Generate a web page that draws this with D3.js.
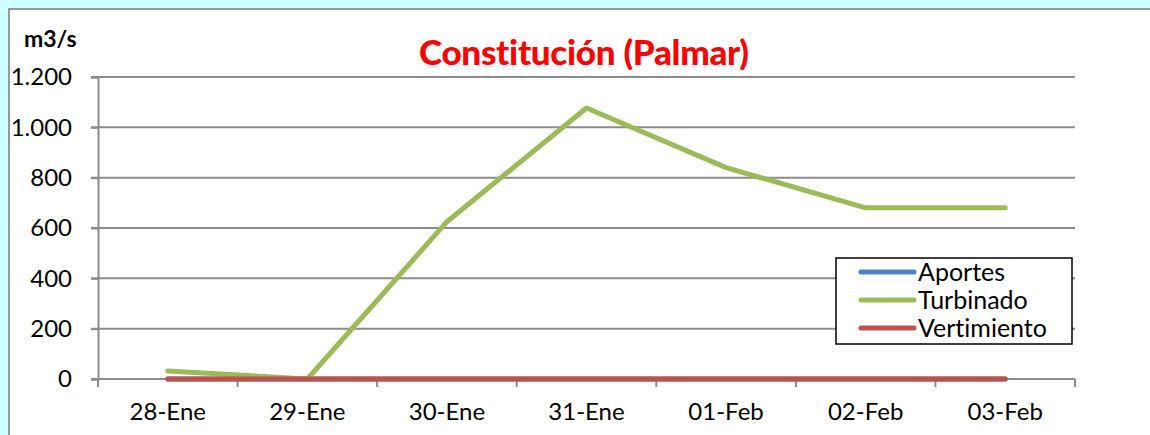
<!DOCTYPE html>
<html>
<head>
<meta charset="utf-8">
<script src="https://cdn.jsdelivr.net/npm/d3@7"></script>
<style>
  body { margin: 0; background: #ccffff; }
  text { font-family: Lato, "Open Sans", sans-serif; font-variant-ligatures: none; }
</style>
</head>
<body>
<div id="wrapper"></div>
<script>
const dates = ["28-Ene", "29-Ene", "30-Ene", "31-Ene", "01-Feb", "02-Feb", "03-Feb"]
const aportes = [0, 0, 0, 0, 0, 0, 0]
const turbinado = [32, 0, 625, 1077, 840, 680, 680]
const vertimiento = [0, 0, 0, 0, 0, 0, 0]
const yTicks = [0, 200, 400, 600, 800, 1000, 1200]
const seriesNames = ["Aportes", "Turbinado", "Vertimiento"]
const seriesColors = ["#4f81bd", "#9bbb59", "#c0504d"]

const width = 1150, height = 435
const svg = d3.select("#wrapper").append("svg")
    .attr("width", width)
    .attr("height", height)
    .style("display", "block")

// white panel
svg.append("rect")
    .attr("x", 9).attr("y", 9)
    .attr("width", width + 10).attr("height", height + 10)
    .attr("fill", "white")
    .attr("stroke", "#999")
    .attr("stroke-width", 2)

const margin = {left: 98, right: 75, top: 77, bottom: 56}
const x = d3.scaleBand().domain(dates).range([margin.left, width - margin.right])
const y = d3.scaleLinear().domain([0, 1200]).range([height - margin.bottom, margin.top])

// grid
svg.append("g").selectAll("line")
    .data(yTicks.filter(d => d > 0))
    .join("line")
    .attr("x1", margin.left - 7).attr("x2", width - margin.right)
    .attr("y1", d => y(d)).attr("y2", d => y(d))
    .attr("stroke", "#8c8c8c").attr("stroke-width", 2)

const yAxis = svg.append("g")
    .attr("transform", `translate(${margin.left},0)`)
    .call(d3.axisLeft(y).tickValues(yTicks).tickSize(7).tickPadding(19)
        .tickFormat(d => d3.format(",")(d).replace(",", ".")))
yAxis.select(".domain").attr("stroke", "#8c8c8c").attr("stroke-width", 2)
yAxis.selectAll(".tick line").attr("stroke", "#8c8c8c").attr("stroke-width", 2)
yAxis.selectAll(".tick text").attr("font-size", 24).attr("fill", "black")
    .attr("font-family", "Lato")

const xAxis = svg.append("g")
    .attr("transform", `translate(0,${y(0)})`)
    .call(d3.axisBottom(x).tickSize(0).tickPadding(24))
xAxis.select(".domain").remove()
xAxis.append("line")
    .attr("x1", margin.left - 7).attr("x2", width - margin.right)
    .attr("stroke", "#8c8c8c").attr("stroke-width", 2)
xAxis.selectAll(".tick text").attr("font-size", 24).attr("fill", "black")
    .attr("font-family", "Lato")
// ticks between categories
xAxis.append("g").selectAll("line")
    .data(dates.map(d => x(d)).concat([x(dates[dates.length - 1]) + x.bandwidth()]))
    .join("line")
    .attr("x1", d => d).attr("x2", d => d)
    .attr("y1", 0).attr("y2", 8)
    .attr("stroke", "#8c8c8c").attr("stroke-width", 2)

const line = d3.line()
    .x((d, i) => x(dates[i]) + x.bandwidth() / 2)
    .y(d => y(d))

const allSeries = [aportes, turbinado, vertimiento]
allSeries.forEach((s, i) => {
    svg.append("path")
        .datum(s)
        .attr("d", line)
        .attr("fill", "none")
        .attr("stroke", seriesColors[i])
        .attr("stroke-width", 5)
        .attr("stroke-linecap", "round")
        .attr("stroke-linejoin", "round")
})

// title and unit
svg.append("text")
    .attr("x", 584).attr("y", 65)
    .attr("text-anchor", "middle")
    .attr("font-size", 35)
    .attr("font-weight", 900)
    .attr("fill", "#ff0000")
    .attr("textLength", 330)
    .text("Constitución (Palmar)")

svg.append("text")
    .attr("x", 24).attr("y", 47)
    .attr("font-size", 23)
    .attr("font-weight", "bold")
    .text("m3/s")

// legend
const legend = svg.append("g").attr("transform", "translate(836,258)")
legend.append("rect")
    .attr("width", 236).attr("height", 86)
    .attr("fill", "white").attr("stroke", "black").attr("stroke-width", 1.5)
seriesNames.forEach((name, i) => {
    const ly = 14 + i * 28
    legend.append("line")
        .attr("x1", 25).attr("x2", 78)
        .attr("y1", ly).attr("y2", ly)
        .attr("stroke", seriesColors[i]).attr("stroke-width", 5)
        .attr("stroke-linecap", "round")
    legend.append("text")
        .attr("x", 82).attr("y", ly + 9)
        .attr("font-size", 25)
        .text(name)
})
</script>
</body>
</html>
